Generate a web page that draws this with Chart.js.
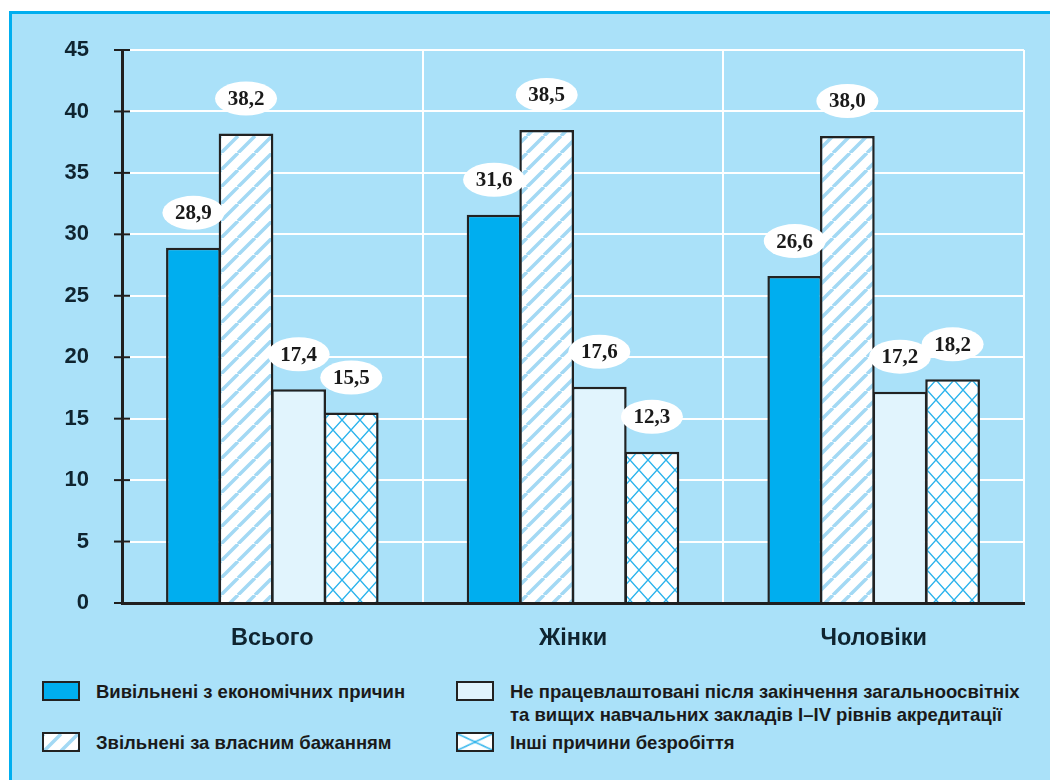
<!DOCTYPE html>
<html>
<head>
<meta charset="utf-8">
<script src="https://cdn.jsdelivr.net/npm/chart.js@4.4.0/dist/chart.umd.min.js"></script>
<style>
  body { margin: 0; background: #fff; width: 1050px; height: 780px; overflow: hidden; position: relative; font-family: "Liberation Sans", Arial, sans-serif; }
  #panel { position: absolute; left: 9px; top: 11px; width: 1041px; height: 769px; background: #aae1f9; border-top: 3px solid #00aeef; border-left: 3px solid #00aeef; box-sizing: border-box; }
  #chart { position: absolute; left: 0; top: 0; }
  .item { position: absolute; display: flex; align-items: flex-start; font-weight: bold; font-size: 18.5px; color: #1a1a1a; line-height: 23px; white-space: nowrap; }
  .sw { width: 34px; height: 16px; border: 2px solid #222; margin-right: 16px; flex: none; margin-top: 1px; background-color: #fff; }
</style>
</head>
<body>
<div id="panel"></div>
<canvas id="chart" width="1050" height="660"></canvas>

<div class="item" style="left:42px;top:680px"><div class="sw" id="sw0"></div><div id="lg0"></div></div>
<div class="item" style="left:42px;top:731px"><div class="sw" id="sw1"></div><div id="lg1"></div></div>
<div class="item" style="left:456px;top:680px"><div class="sw" id="sw2"></div><div id="lg2"></div></div>
<div class="item" style="left:456px;top:731px"><div class="sw" id="sw3"></div><div id="lg3"></div></div>

<script>
const categories = ['Всього', 'Жінки', 'Чоловіки'];
const seriesNames = [
  'Вивільнені з економічних причин',
  'Звільнені за власним бажанням',
  'Не працевлаштовані після закінчення загальноосвітніх<br>та вищих навчальних закладів І–ІV рівнів акредитації',
  'Інші причини безробіття'
];
const economic = [28.9, 31.6, 26.6];
const ownWish = [38.2, 38.5, 38.0];
const graduates = [17.4, 17.6, 17.2];
const other = [15.5, 12.3, 18.2];
const yTicks = [0, 5, 10, 15, 20, 25, 30, 35, 40, 45];

// patterns
function hatch() {
  const s = 17;
  const c = document.createElement('canvas'); c.width = s; c.height = s;
  const g = c.getContext('2d');
  g.fillStyle = '#fff'; g.fillRect(0, 0, s, s);
  g.strokeStyle = '#a3d9f4'; g.lineWidth = 3.5;
  g.beginPath();
  for (let k = -1; k <= 1; k++) { g.moveTo(k * s, s); g.lineTo(k * s + s, 0); }
  g.stroke();
  return c;
}
function cross() {
  const w = 18, h = 20;
  const c = document.createElement('canvas'); c.width = w; c.height = h;
  const g = c.getContext('2d');
  g.fillStyle = '#fff'; g.fillRect(0, 0, w, h);
  g.strokeStyle = '#2bb3ec'; g.lineWidth = 1.4;
  g.beginPath();
  g.moveTo(0, 0); g.lineTo(w, h);
  g.moveTo(w, 0); g.lineTo(0, h);
  g.stroke();
  return c;
}
const ctx = document.getElementById('chart').getContext('2d');
const hatchCanvas = hatch(), crossCanvas = cross();
const fills = ['#00aeef', ctx.createPattern(hatchCanvas, 'repeat'), '#e1f4fd', ctx.createPattern(crossCanvas, 'repeat')];

// legend
document.getElementById('sw0').style.background = '#00aeef';
document.getElementById('sw1').style.background = 'url(' + hatchCanvas.toDataURL() + ')';
document.getElementById('sw2').style.background = '#e1f4fd';
document.getElementById('sw3').style.background = 'url(' + crossCanvas.toDataURL() + ') center/34px 16px';
seriesNames.forEach((n, i) => { document.getElementById('lg' + i).innerHTML = n; });

const fmt = v => v.toFixed(1).replace('.', ',');

const ovals = {
  id: 'ovals',
  afterDatasetsDraw(chart) {
    const c = chart.ctx;
    chart.data.datasets.forEach((ds, i) => {
      chart.getDatasetMeta(i).data.forEach((bar, j) => {
        const x = bar.x, y = bar.y - 35;
        c.save();
        c.beginPath();
        c.ellipse(x, y, 31, 17, 0, 0, Math.PI * 2);
        c.fillStyle = '#fff';
        c.fill();
        c.font = 'bold 21px "Liberation Serif"';
        c.fillStyle = '#1a1a1a';
        c.textAlign = 'center';
        c.textBaseline = 'middle';
        c.fillText(fmt(ds.data[j]), x, y + 1);
        c.restore();
      });
    });
  }
};

const tickMarks = {
  id: 'tickMarks',
  afterDraw(chart) {
    const c = chart.ctx, y = chart.scales.y, left = chart.chartArea.left;
    c.save();
    c.strokeStyle = '#1f1f1f';
    c.lineWidth = 2;
    yTicks.forEach(v => {
      const p = y.getPixelForValue(v);
      c.beginPath(); c.moveTo(left - 8, p); c.lineTo(left + 8, p); c.stroke();
    });
    c.restore();
  }
};

const yFont = { family: 'Liberation Sans', weight: 'bold', size: 22 };
const xFont = { family: 'Liberation Sans', weight: 'bold', size: 23.5 };

new Chart(ctx, {
  type: 'bar',
  data: {
    labels: categories,
    datasets: [economic, ownWish, graduates, other].map((d, i) => ({
      label: seriesNames[i],
      data: d,
      backgroundColor: fills[i],
      borderColor: '#222',
      borderWidth: 2.5,
      categoryPercentage: 0.7,
      barPercentage: 1.04
    }))
  },
  options: {
    responsive: false,
    animation: false,
    layout: { padding: { top: 50, right: 26, left: 0, bottom: 0 } },
    plugins: { legend: { display: false }, tooltip: { enabled: false } },
    scales: {
      x: {
        grid: { color: '#fff', lineWidth: 2, drawTicks: false },
        border: { color: '#1f1f1f', width: 3 },
        ticks: { font: xFont, color: '#0f2430', padding: 21 },
        afterFit(s) { s.height = 57; }
      },
      y: {
        min: 0, max: 45,
        afterBuildTicks(s) { s.ticks = yTicks.map(v => ({ value: v })); },
        grid: { color: '#fff', lineWidth: 2, drawTicks: false },
        border: { color: '#1f1f1f', width: 3 },
        ticks: { font: yFont, color: '#0f2430', padding: 33 },
        afterFit(s) { s.width = 122; }
      }
    }
  },
  plugins: [ovals, tickMarks]
});
</script>
</body>
</html>
